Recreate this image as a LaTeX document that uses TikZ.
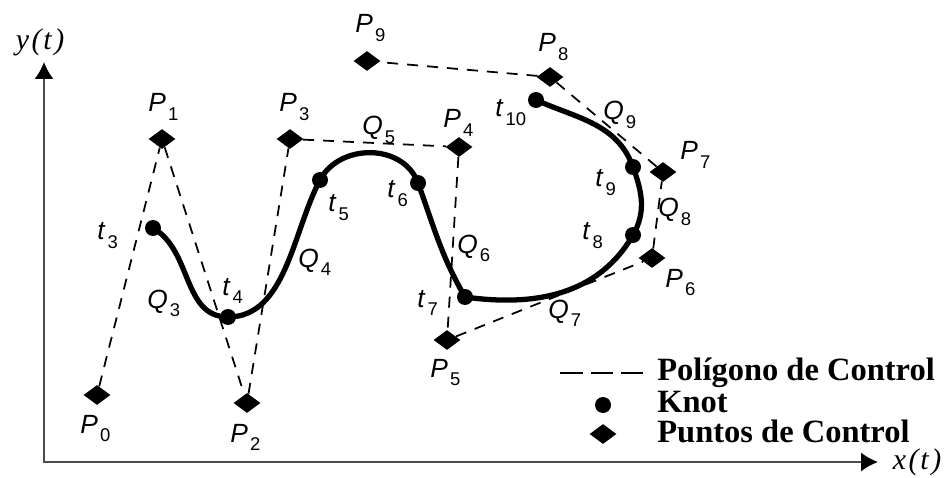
\documentclass[tikz,border=0pt]{standalone}
\usepackage{fontspec}
\setmainfont{Liberation Serif}
\newfontfamily\lblfam{Liberation Sans}
\usepackage{tikz}
\usetikzlibrary{shapes.geometric,arrows.meta}
\newcommand{\sublbl}[2]{\textit{#1}\kern1.2pt\raisebox{-5pt}{\fontsize{10.5}{10.5}\selectfont\upshape #2}}
\tikzset{
  CP/.style={diamond,fill=black,inner sep=0pt,
             minimum width=0.54cm,minimum height=0.4cm},
  KN/.style={circle,fill=black,inner sep=0pt,minimum size=0.32cm},
  poly/.style={line width=1pt,dash pattern=on 0.22cm off 0.18cm},
  crv/.style={line width=3pt,line cap=round},
  ax/.style={line width=1.1pt,draw=black!70,
             {Latex[length=0.34cm,width=0.38cm,color=black]}-{Latex[length=0.34cm,width=0.38cm,color=black]}},
  LB/.style={anchor=base west,inner sep=0pt,font=\lblfam\fontsize{15}{17}\selectfont},
  AL/.style={inner sep=0pt,font=\fontsize{17}{20}\selectfont\itshape},
  LG/.style={anchor=base west,inner sep=0pt,font=\fontsize{18.5}{20}\selectfont\bfseries}
}
\begin{document}
\begin{tikzpicture}[x=0.02cm,y=0.02cm]
  \useasboundingbox (0,0) rectangle (949,477);
  % axes
  \coordinate (O) at (44,15);
  \coordinate (ytip) at (44,415);
  \coordinate (xtip) at (878,15);
  \draw[ax] (ytip) -- (O) -- (xtip);
  \node[AL] (ylab) at (40,435) {y\kern1.5pt(\kern1pt t\kern1.5pt)};
  \node[AL] (xlab) at (917,15) {x\kern1.5pt(\kern1pt t\kern1.5pt)};

  % control points
  \node[CP] (P0) at (97,82) {};
  \node[CP] (P1) at (162,338) {};
  \node[CP] (P2) at (247,74) {};
  \node[CP] (P3) at (290,338) {};
  \node[CP] (P4) at (459,330) {};
  \node[CP] (P5) at (447,137) {};
  \node[CP] (P6) at (652,219) {};
  \node[CP] (P7) at (663,305) {};
  \node[CP] (P8) at (550,400) {};
  \node[CP] (P9) at (367,416) {};
  \draw[poly] (P0) -- (P1) -- (P2) -- (P3) -- (P4) -- (P5)
              -- (P6) -- (P7) -- (P8) -- (P9);

  % knots and spline
  \node[KN] (t3) at (153,249) {};
  \node[KN] (t4) at (228,160) {};
  \node[KN] (t5) at (320,297) {};
  \node[KN] (t6) at (418,294) {};
  \node[KN] (t7) at (465,180) {};
  \node[KN] (t8) at (633,242) {};
  \node[KN] (t9) at (633,310) {};
  \node[KN] (t10) at (536,377) {};
  \draw[crv] (t3.center) to[out=-30,in=180] (t4.center)
    to[out=0,in=242,looseness=0.9] (t5.center)
    to[out=62,in=110,looseness=1.1] (t6.center)
    to[out=-70,in=120] (t7.center)
    to[out=-8,in=240] (t8.center)
    to[out=60,in=-70] (t9.center)
    to[out=110,in=-24] (t10.center);

  % labels
  \node[LB] (lP0) at (80,44) {\sublbl{P}{0}};
  \node[LB] (lP1) at (148,365) {\sublbl{P}{1}};
  \node[LB] (lP2) at (230,35) {\sublbl{P}{2}};
  \node[LB] (lP3) at (279,365) {\sublbl{P}{3}};
  \node[LB] (lP4) at (443,349) {\sublbl{P}{4}};
  \node[LB] (lP5) at (430,100) {\sublbl{P}{5}};
  \node[LB] (lP6) at (665,190) {\sublbl{P}{6}};
  \node[LB] (lP7) at (680,317) {\sublbl{P}{7}};
  \node[LB] (lP8) at (538,425) {\sublbl{P}{8}};
  \node[LB] (lP9) at (355,444) {\sublbl{P}{9}};
  \node[LB] (lt3) at (97,237) {\sublbl{t}{3}};
  \node[LB] (lt4) at (222,182) {\sublbl{t}{4}};
  \node[LB] (lt5) at (328,265) {\sublbl{t}{5}};
  \node[LB] (lt6) at (387,279) {\sublbl{t}{6}};
  \node[LB] (lt7) at (417,170) {\sublbl{t}{7}};
  \node[LB] (lt8) at (582,237) {\sublbl{t}{8}};
  \node[LB] (lt9) at (595,290) {\sublbl{t}{9}};
  \node[LB] (lt10) at (495,360) {\sublbl{t}{10}};
  \node[LB] (lQ3) at (147,169) {\sublbl{Q}{3}};
  \node[LB] (lQ4) at (298,210) {\sublbl{Q}{4}};
  \node[LB] (lQ5) at (362,342) {\sublbl{Q}{5}};
  \node[LB] (lQ6) at (457,224) {\sublbl{Q}{6}};
  \node[LB] (lQ7) at (548,159) {\sublbl{Q}{7}};
  \node[LB] (lQ8) at (658,260) {\sublbl{Q}{8}};
  \node[LB] (lQ9) at (603,357) {\sublbl{Q}{9}};

  % legend
  \coordinate (la) at (560,104);
  \coordinate (lb) at (645,104);
  \draw[line width=1.6pt,dash pattern=on 0.45cm off 0.16cm] (la) -- (lb);
  \node[KN] (lk) at (603,72) {};
  \node[CP] (ld) at (603,43) {};
  \node[LG] (lg1) at (657,97) {Polígono de Control};
  \node[LG] (lg2) at (657,65) {Knot};
  \node[LG] (lg3) at (657,35) {Puntos de Control};
\end{tikzpicture}
\end{document}
